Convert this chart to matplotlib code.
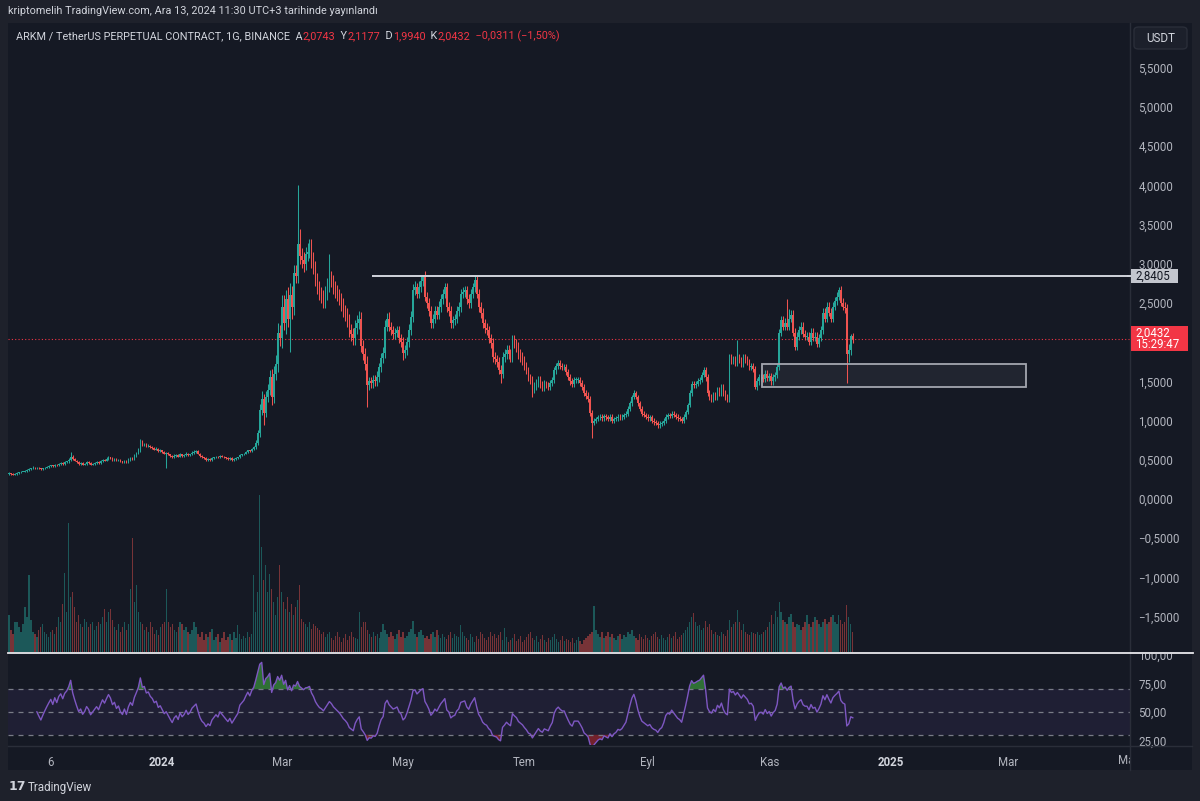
import numpy as np
import pandas as pd
import matplotlib
matplotlib.use("Agg")
import matplotlib.pyplot as plt
from matplotlib.patches import Rectangle, FancyBboxPatch
from matplotlib.lines import Line2D
from matplotlib.transforms import Bbox
from matplotlib.ticker import FuncFormatter

plt.rcParams['font.family'] = ['Roboto', 'DejaVu Sans']

# ---------------- data (daily candles, 16 Oct 2023 -> 13 Dec 2024) ----------------
first_open = 0.32
closes = [
    0.33,0.32,0.31,0.32,0.33,0.34,0.35,0.35,0.36,0.37,0.38,0.39,0.40,0.39,0.40,0.39,0.38,0.39,0.40,0.41,0.42,
    0.43,0.42,0.44,0.43,0.45,0.46,0.45,0.47,0.48,0.50,0.54,0.51,0.49,0.47,0.45,0.46,0.44,0.45,0.47,0.46,0.44,0.45,0.46,0.47,0.46,
    0.48,0.50,0.49,0.51,0.53,0.52,0.50,0.51,0.49,0.50,0.48,0.47,0.49,0.47,0.50,0.52,0.51,0.55,0.58,0.62,
    0.73,0.69,0.70,0.67,0.68,0.66,0.65,0.63,0.64,0.61,0.62,0.60,0.58,0.59,0.57,
    0.55,0.53,0.55,0.56,0.54,0.57,0.55,0.56,0.58,0.56,0.57,0.59,0.60,0.61,0.58,0.55,0.53,0.52,0.50,0.51,
    0.50,0.52,0.53,0.54,0.53,0.55,0.54,0.53,0.52,0.51,0.52,0.50,0.51,0.52,0.53,
    0.56,0.57,0.58,0.60,0.62,0.61,0.64,0.66,0.72,0.84,1.13,1.28,1.10,1.30,1.39,1.56,1.30,1.60,1.72,2.12,
    2.05,2.45,2.25,2.55,2.30,2.60,2.45,2.88,2.85,3.25,
    3.10,3.05,3.00,3.12,3.15,3.22,3.05,2.95,2.80,2.70,2.62,2.58,2.52,2.62,2.72,2.83,2.78,2.70,2.65,2.60,
    2.55,2.48,2.40,2.35,2.28,2.15,2.10,2.05,2.18,2.25,2.30,1.95,1.85,1.72,
    1.45,1.50,1.48,1.52,1.50,1.55,1.68,1.80,1.86,2.20,
    2.30,2.20,2.15,2.10,2.12,2.15,2.05,2.00,1.86,1.90,
    2.00,2.15,2.32,2.66,2.70,2.62,2.70,2.78,2.83,2.58,
    2.50,2.40,2.24,2.30,2.40,2.35,2.45,2.55,2.62,2.70,
    2.45,2.40,2.24,2.28,2.30,2.40,2.45,2.62,2.64,2.66,
    2.55,2.50,2.62,2.70,2.79,2.62,2.45,2.37,2.24,2.18,
    2.15,2.05,1.99,1.81,1.78,1.75,1.65,1.60,1.81,1.85,
    1.90,1.85,1.81,2.03,1.98,1.94,1.85,1.81,1.77,1.70,
    1.64,1.55,1.52,1.40,1.44,1.48,1.52,1.46,1.43,1.47,
    1.45,1.43,1.48,1.52,1.64,1.70,1.73,1.70,1.68,1.68,
    1.62,1.56,1.50,1.47,1.52,1.52,1.52,1.48,1.43,1.35,
    1.32,1.28,
    1.10,0.97,1.00,1.02,1.04,1.05,1.03,1.06,
    1.04,1.02,1.05,1.00,1.02,1.03,1.05,1.04,1.05,1.07,
    1.09,1.15,1.22,1.30,1.35,1.30,1.22,1.15,1.09,1.07,
    1.05,1.03,1.04,1.00,0.98,0.97,0.94,0.96,0.97,1.00,
    1.05,1.07,1.06,1.09,1.07,1.05,1.03,1.02,1.00,1.05,
    1.11,1.20,1.35,1.47,1.45,1.47,1.50,1.52,1.58,1.65,
    1.55,1.35,1.30,1.28,1.33,1.30,1.39,1.36,1.43,1.35,
    1.30,1.28,1.81,1.76,1.79,1.74,1.81,1.77,1.73,1.81,
    1.78,1.75,1.69,1.70,1.66,1.43,1.50,1.55,1.56,1.53,
    1.60,1.54,1.57,1.50,1.55,1.58,1.68,2.12,2.28,2.20,
    2.25,2.20,2.30,2.35,2.12,1.94,2.07,2.15,2.20,2.10,
    2.07,2.07,2.00,2.12,2.05,2.07,1.98,2.05,2.15,2.37,
    2.30,2.45,2.37,2.30,2.45,2.52,2.58,2.66,2.50,2.45,
    2.43,1.85,1.90,2.0743,2.0432,
]
# wick lengths above / below the body, in hundredths of USDT
wick_up = [
    1,0,1,1,1,1,1,0,1,1,1,1,2,1,1,1,0,1,1,1,1,
    1,1,1,1,1,1,1,2,1,2,6,2,1,1,1,1,1,1,2,1,1,1,1,1,1,
    2,1,1,2,2,1,1,1,1,1,1,1,1,1,2,1,1,2,2,3,
    3,2,2,2,2,1,2,1,2,1,2,1,1,1,1,
    1,1,2,1,1,2,1,1,2,1,1,2,2,2,1,1,1,1,1,1,1,1,1,1,1,1,1,1,1,1,1,1,1,1,1,
    1,1,1,1,1,1,1,2,3,4,8,10,6,8,8,8,10,10,12,12,10,15,15,12,15,15,12,10,10,75,
    20,10,10,10,12,10,10,10,8,8,8,8,8,10,10,30,8,8,8,8,8,8,8,8,8,8,8,8,10,10,10,8,8,8,
    10,6,6,6,6,8,6,6,8,8,
    7,8,6,6,6,6,6,6,6,6,
    6,8,8,8,8,6,8,6,3,8,
    6,6,6,6,6,6,8,6,6,6,
    6,6,6,6,6,6,6,6,6,6,
    6,6,6,6,5,6,6,6,6,6,
    6,6,6,6,6,6,6,6,6,6,
    6,6,6,6,6,6,6,6,6,6,
    5,5,5,5,5,5,5,5,5,5,
    4,4,4,4,5,4,4,4,4,4,
    4,4,4,4,4,4,4,4,4,4,
    4,4,
    4,3,3,3,3,3,3,3,
    3,3,3,3,3,3,3,3,3,3,
    3,3,3,3,4,3,3,3,3,3,
    3,3,3,3,3,3,3,3,3,3,
    3,3,3,3,3,3,3,3,3,3,
    3,3,4,4,4,4,4,4,4,3,
    4,4,4,4,4,4,4,4,4,4,
    4,4,4,4,4,4,22,4,4,4,
    4,4,4,4,4,4,4,4,4,4,
    4,4,4,4,4,4,4,5,6,6,
    6,30,12,6,6,6,6,6,6,6,
    6,6,6,6,6,6,6,6,6,6,
    6,6,6,6,6,6,6,4,6,6,
    6,6,8,3,4,
]
wick_dn = [
    1,1,1,1,1,1,1,1,1,1,1,1,1,1,1,1,1,1,1,1,1,
    1,1,1,1,1,1,1,1,1,2,1,1,1,1,1,1,1,1,1,1,1,1,1,1,1,
    1,1,1,1,1,1,1,1,1,1,1,1,1,1,1,1,1,1,1,1,
    2,1,1,1,1,1,1,1,1,1,1,1,1,18,1,
    1,1,1,1,1,1,1,1,1,1,1,1,1,1,1,1,1,1,1,1,1,1,1,1,1,1,1,1,1,1,1,1,1,1,1,
    1,1,1,1,1,1,1,1,2,3,5,6,15,6,6,6,10,8,8,10,10,12,10,15,10,43,15,10,10,10,
    10,10,10,8,8,8,10,8,8,8,8,8,8,8,8,8,8,8,8,8,8,8,8,8,8,8,8,8,8,8,8,8,8,8,
    28,6,6,6,6,6,6,6,6,6,
    6,6,6,6,6,6,6,6,9,6,
    6,6,6,6,6,6,6,6,6,6,
    6,6,6,6,6,6,6,6,6,6,
    6,6,6,6,6,6,6,6,6,6,
    6,6,6,6,6,6,6,6,6,6,
    6,6,6,6,6,6,6,12,6,6,
    6,6,6,6,6,6,6,6,6,6,
    5,5,5,10,5,5,5,5,5,5,
    4,4,4,4,4,4,4,4,4,4,
    4,4,4,4,4,4,4,4,4,4,
    4,4,
    4,19,3,3,3,3,3,3,
    3,3,3,3,3,3,3,3,3,3,
    3,3,3,3,3,3,3,3,3,3,
    3,3,3,3,3,3,3,3,3,3,
    3,3,3,3,3,3,3,3,3,3,
    3,3,3,3,3,3,3,3,3,3,
    4,4,4,4,4,4,4,4,4,4,
    4,4,4,4,4,4,4,4,4,4,
    4,4,4,4,4,3,4,4,4,4,
    4,4,4,4,4,4,4,4,4,4,
    4,4,4,4,4,4,4,4,4,4,
    4,4,4,4,4,4,4,4,4,4,
    4,4,4,4,4,4,4,4,4,4,
    6,37,10,6,5,
]
# daily volume (millions ARKM, approx.)
volumes = [
    37,22,18,30,30,25,20,28,45,35, 77,32,20,18,15,22,25,28,20,18,
    15,20,22,18,25,35,30,48,79,40, 129,55,60,45,30,37,28,25,33,30,
    25,28,30,22,26,30,28,35,43,30, 40,43,32,25,22,28,20,25,30,22,
    28,63,114,50,67,40,30,28,22,25, 20,30,25,18,22,17,25,28,30,63,
    30,25,28,22,20,25,30,28,22,25, 20,18,22,30,25,18,15,20,12,18,
    15,20,23,12,15,18,10,14,20,12, 15,18,12,20,14,27,18,13,16,14,
    20,15,18,77,40,60,157,105,72,87, 60,78,63,50,37,55,87,60,50,43,
    55,40,48,37,45,52,67,33,30,28, 25,30,23,28,26,24,22,18,20,15,
    18,20,14,12,16,20,15,10,14,18, 12,16,20,15,14,13,40,25,30,30,
    22,18,15,20,16,18,14,20,28,22, 18,15,20,16,13,18,22,15,20,14,
    16,20,23,31,18,15,20,22,17,14, 16,13,18,20,15,22,17,14,18,15,
    13,17,20,14,18,16,15,27,20,16, 14,12,18,15,10,16,13,20,18,14,
    12,15,20,16,18,14,17,20,12,24, 15,10,12,14,18,11,13,16,10,12,
    15,18,20,14,12,16,10,13,17,12, 10,14,12,15,18,13,10,12,16,11,
    13,12,10,14,9,12,15,11,8,12, 14,16,18,20,46,22,18,15,20,14,
    16,20,15,18,14,12,16,18,13,17, 15,20,18,22,16,14,12,18,15,13,
    17,14,12,16,18,20,15,13,17,14, 12,15,18,14,16,20,13,15,17,19,
    22,25,30,35,39,30,26,27,22,24, 31,25,28,22,18,20,17,16,20,18,
    16,22,32,25,28,30,42,30,22,28, 20,18,17,20,19,18,20,17,18,20,
    22,25,30,37,28,41,35,50,40,32, 30,28,35,38,30,25,28,27,22,25,
    30,37,28,25,30,35,32,28,25,30, 33,28,30,35,37,30,28,37,32,28,
    30,47,35,28,20,
]

time_ticks = [21, 77, 137, 198, 259, 321, 382, 443, 502]
time_labels = ["6", "2024", "Mar", "May", "Tem", "Eyl", "Kas", "2025", "Mar"]
time_bold = ["2024", "2025"]
cut_tick, cut_label = 563, "May"
price_ticks = [5.5, 5.0, 4.5, 4.0, 3.5, 3.0, 2.5, 1.5, 1.0, 0.5, 0.0, -0.5, -1.0, -1.5]
rsi_ticks = [25, 50, 75]
rsi_levels = [30, 50, 70]
resistance = 2.8405
resistance_start = 182.4
last_price = 2.0432
last_time = "15:29:47"
zone_days = (378.4, 511.0)
zone_prices = (1.43, 1.72)
header = "kriptomelih TradingView.com, Ara 13, 2024 11:30 UTC+3 tarihinde yayınlandı"
symbol_parts = [("ARKM / TetherUS PERPETUAL CONTRACT, 1G, BINANCE  A", 0), ("2,0743", 1),
                ("  Y", 0), ("2,1177", 1), ("  D", 0), ("1,9940", 1), ("  K", 0), ("2,0432", 1),
                ("  \u22120,0311 (\u22121,50%)", 1)]

# ---------------- styling ----------------
W, H = 1200, 801
FRAME = '#1e212b'
BG = '#151924'
UP = '#26a69a'
DN = '#ef5350'
TXT = '#b2b5be'
LIGHT = '#d1d4dc'
RED = '#f23645'
GRID = '#2a2e39'
AXFS = 8.3

fig = plt.figure(figsize=(W / 100, H / 100), dpi=100, facecolor=FRAME)


def fx(x):
    return x / W


def fy(y):
    return 1 - y / H


def add_ax(x0, y0, x1, y1, **kw):
    return fig.add_axes([fx(x0), fy(y1), (x1 - x0) / W, (y1 - y0) / H], **kw)


def hline_px(x0, x1, y, color, lw=1.0, z=5):
    fig.add_artist(Line2D([fx(x0), fx(x1)], [fy(y), fy(y)], transform=fig.transFigure,
                          color=color, lw=lw, zorder=z))


def vline_px(x, y0, y1, color, lw=1.0, z=5):
    fig.add_artist(Line2D([fx(x), fx(x)], [fy(y0), fy(y1)], transform=fig.transFigure,
                          color=color, lw=lw, zorder=z))


# chart background
fig.add_artist(Rectangle((fx(8), fy(770)), (1192 - 8) / W, (770 - 23) / H,
                         transform=fig.transFigure, facecolor=BG, edgecolor='none', zorder=-10))

XL = (-0.5, 563.3)
PL, PT, PR, PB = 8, 23, 1130, 652


def p2y(p):  # price -> pixel row (for placing the scale tags)
    return 499 - 78.4 * p


# volume pane (overlaid, bottom of price pane)
axv = add_ax(PL, 490, PR, PB)
axv.set_facecolor('none')
n = len(closes)
x = np.arange(n)
c = np.array(closes, dtype=float)
o = np.r_[first_open, c[:-1]]
up = c >= o
cols = np.where(up, UP, DN)
axv.bar(x, volumes, width=0.65, color=cols, alpha=0.45, linewidth=0)
axv.set_xlim(*XL)
axv.set_ylim(0, 162)
axv.axis('off')

# price pane
ax = add_ax(PL, PT, PR, PB)
ax.set_facecolor('none')
hi = np.maximum(o, c) + np.array(wick_up) / 100
lo = np.minimum(o, c) - np.array(wick_dn) / 100
ax.vlines(x, lo, hi, colors=cols, lw=0.75, zorder=3)
ax.bar(x, np.maximum(np.abs(c - o), 0.006), bottom=np.minimum(o, c), width=0.8,
       color=cols, linewidth=0, zorder=4)
ax.set_xlim(*XL)
ax.set_ylim((499 - PB) / 78.4, (499 - PT) / 78.4)
for s in ax.spines.values():
    s.set_visible(False)
ax.set_xticks([])
ax.yaxis.tick_right()
ax.set_yticks(price_ticks)
ax.yaxis.set_major_formatter(FuncFormatter(lambda v, _: f"{v:.4f}".replace('.', ',').replace('-', '\u2212')))
ax.tick_params(axis='y', length=0, pad=6, labelsize=AXFS, labelcolor=TXT)

# last price dotted line & resistance line & zone
ax.axhline(last_price, color=RED, lw=0.8, ls=(0, (1, 2)), zorder=2)
ax.hlines(resistance, resistance_start, XL[1], color=LIGHT, lw=1.4, zorder=5)
ax.add_patch(Rectangle((zone_days[0], zone_prices[0]), zone_days[1] - zone_days[0],
                       zone_prices[1] - zone_prices[0], facecolor='#787b86', alpha=0.13,
                       edgecolor='none', zorder=1))
ax.add_patch(Rectangle((zone_days[0], zone_prices[0]), zone_days[1] - zone_days[0],
                       zone_prices[1] - zone_prices[0], facecolor='none',
                       edgecolor='#a3a6af', lw=1.3, zorder=6))

# RSI pane (RSI 14, Wilder smoothing, computed from the closes)
axr = add_ax(PL, 654, PR, 745)
axr.set_facecolor('none')
s = pd.Series(c)
d = s.diff()
gain = d.clip(lower=0)
loss = (-d).clip(lower=0)
ag = gain.ewm(alpha=1 / 14, adjust=False, min_periods=14).mean()
al = loss.ewm(alpha=1 / 14, adjust=False, min_periods=14).mean()
rsi = (100 - 100 / (1 + ag / al)).to_numpy()
axr.axhspan(rsi_levels[0], rsi_levels[2], color='#7e57c2', alpha=0.1, lw=0)
for lv in rsi_levels:
    axr.axhline(lv, color='#787b86', lw=0.9, ls=(0, (4, 4)))
axr.fill_between(x, rsi_levels[2], rsi, where=rsi > rsi_levels[2], interpolate=True,
                 color='#388e3c', alpha=0.75, lw=0)
axr.fill_between(x, rsi_levels[0], rsi, where=rsi < rsi_levels[0], interpolate=True,
                 color='#b22833', alpha=0.6, lw=0)
axr.plot(x, rsi, color='#7e57c2', lw=1.0)
axr.set_xlim(*XL)
axr.set_ylim(21.05, 100.9)
for sp in axr.spines.values():
    sp.set_visible(False)
axr.yaxis.tick_right()
axr.set_yticks(rsi_ticks)
axr.yaxis.set_major_formatter(FuncFormatter(lambda v, _: f"{v:.2f}".replace('.', ',')))
axr.tick_params(axis='y', length=0, pad=6, labelsize=AXFS, labelcolor=TXT)
axr.set_xticks(time_ticks)
axr.set_xticklabels(time_labels)
axr.tick_params(axis='x', length=0, pad=8, labelsize=AXFS, labelcolor=TXT)
for t in axr.get_xticklabels():
    if t.get_text() in time_bold:
        t.set_fontweight('bold')
        t.set_color(LIGHT)

# clipped labels ("100,00" at top of RSI scale, last month label at the edge)
xr = PR + 8
t100 = fig.text(fx(xr), fy(656), "100,00", fontsize=AXFS, color=TXT, va='center', ha='left')
t100.set_clip_box(Bbox.from_extents(PR, H - 745, 1192, H - 654))
t100.set_clip_on(True)
tcut = axr.text(cut_tick, -0.165, cut_label, transform=axr.get_xaxis_transform(),
                fontsize=AXFS, color=TXT, ha='center', va='center', clip_on=False)
tcut.set_clip_box(Bbox.from_extents(PL, 0, PR, H))
tcut.set_clip_on(True)

# separators
vline_px(PR, 23, 770, GRID, 1.0)
hline_px(PL, 1192, 745.5, GRID, 1.0)
hline_px(PL, 1193, 653, '#e8e8ec', 1.3, z=7)

# price tags on the scale
ry = p2y(resistance)
fig.add_artist(Rectangle((fx(PR + 1), fy(ry + 7)), 47 / W, 14 / H, transform=fig.transFigure,
                         facecolor='#c3c6ce', edgecolor='none', zorder=8))
hline_px(PR - 2, PR + 1, ry, LIGHT, 1.4)
fig.text(fx(PR + 5), fy(ry), "2,8405", fontsize=AXFS, color='#131722', va='center', ha='left', zorder=9)
ly = p2y(last_price)
fig.add_artist(Rectangle((fx(PR + 1), fy(ly + 12)), 57 / W, 25 / H, transform=fig.transFigure,
                         facecolor=RED, edgecolor='none', zorder=8))
fig.text(fx(PR + 5), fy(ly - 6), "2,0432", fontsize=AXFS, color='white', va='center', ha='left', zorder=9)
fig.text(fx(PR + 5), fy(ly + 6), last_time, fontsize=AXFS, color='white', va='center', ha='left', zorder=9)

# USDT box
fig.add_artist(FancyBboxPatch((fx(1134), fy(49)), 53 / W, 22 / H, boxstyle="round,pad=0,rounding_size=0.004",
                              transform=fig.transFigure, facecolor='#1c202b', edgecolor=GRID, lw=1, zorder=8))
fig.text(fx(1160.5), fy(38), "USDT", fontsize=8.4, color=LIGHT, ha='center', va='center', zorder=9)

# header texts
fig.text(fx(8), fy(11), header, fontsize=7.8, color=LIGHT, va='center', ha='left')
renderer = fig.canvas.get_renderer()
xx = 16
for txt, red in symbol_parts:
    t = fig.text(fx(xx), fy(36), txt, fontsize=7.8, color=(RED if red else LIGHT), va='center', ha='left')
    xx += t.get_window_extent(renderer).width

# TradingView logo
fig.text(fx(9), fy(787), "17", fontsize=9, fontweight='bold', color=LIGHT, va='center', ha='left',
         family='DejaVu Sans')
fig.text(fx(28), fy(787), "TradingView", fontsize=8.4, color=LIGHT, va='center', ha='left')

fig.savefig("out.png", dpi=100, facecolor=FRAME)
